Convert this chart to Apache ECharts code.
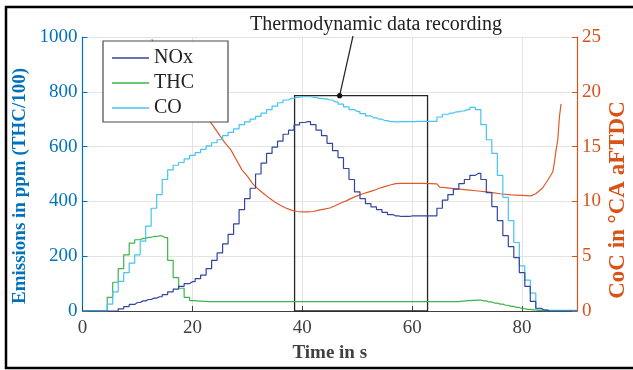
<!DOCTYPE html>
<html><head><meta charset="utf-8">
<script src="https://cdn.jsdelivr.net/npm/echarts@6/dist/echarts.min.js"></script>
<style>html,body{margin:0;padding:0;background:#fff}#c{width:633px;height:370px}</style>
</head><body><div id="c"></div>
<script>
// Time in s (shared by emission series)
const time = [0,1,2,3,4,5,6,7,8,9,10,11,12,13,14,15,16,17,18,19,20,21,22,23,24,25,26,27,28,29,30,31,32,33,34,35,36,37,38,39,40,41,42,43,44,45,46,47,48,49,50,51,52,53,54,55,56,57,58,59,60,61,62,63,64,65,66,67,68,69,70,71,72,73,74,75,76,77,78,79,80,81,82,83,84,85,86,87,88,89,90];
const noxValues = [0,0,0,0,0,0,0,8,16,24,31,37,42,47,52,60,70,80,90,100,107,118,131,155,185,212,245,280,318,370,410,448,500,540,575,598,620,645,660,679,688,691,680,660,640,612,585,560,520,480,435,410,392,380,370,360,352,347,345,345,347,347,347,347,347,375,405,425,445,465,480,495,502,480,432,381,330,275,235,195,140,90,35,10,3,0,0,0,0,0,0];
const thcValues = [0,0,0,0,0,50,105,155,205,248,260,265,269,272,274,268,185,122,83,50,38,36,35,34,34,34,34,34,34,34,34,34,34,34,34,34,34,34,34,34,34,34,34,34,34,34,34,34,34,34,34,34,34,34,34,34,34,34,34,34,34,34,34,34,34,34,34,34,34,36,38,39,40,37,33,29,25,21,17,13,9,6,4,2,0,0,0,0,0,0,0];
const coValues = [0,0,0,0,0,25,70,108,140,175,205,255,310,375,425,480,515,532,542,555,568,578,590,603,614,625,640,652,665,680,690,700,710,722,735,748,760,770,776,780,782,782,780,776,774,770,763,755,745,735,728,720,712,705,700,695,691,690,691,691,691,692,692,692,692,708,718,722,727,730,735,743,735,680,625,575,495,415,330,250,165,113,65,8,4,2,2,2,2,2,2];
// CoC (right axis)
const cocTime = [12.6,14,16,18,20,22,23.5,25,26,27,28,29,30,31,32,33,34,35,36,37,38,39,40,41,42,43,44,45,46,47,48,49,50,51,52,53,54,55,56,57,58,60,62,64.5,65,66,68,70,72,74,76,78,80,81.6,82.5,83.2,83.7,84.7,85.6,85.9,86.2,86.5,86.8,87.1];
const cocValues = [24.8,23.6,22.0,20.5,19.2,18.0,17.1,16.0,15.3,14.7,13.8,12.9,12.3,11.6,11.1,10.7,10.3,9.95,9.65,9.4,9.2,9.08,9.05,9.05,9.08,9.2,9.3,9.4,9.6,9.85,10.05,10.3,10.5,10.7,10.85,11.0,11.2,11.35,11.5,11.62,11.65,11.65,11.65,11.6,11.3,11.25,11.15,11.05,10.95,10.85,10.7,10.6,10.55,10.5,10.7,11.0,11.2,11.95,12.7,13.6,14.7,15.6,17.7,18.9];
// tick values
const xTicks = [0,20,40,60,80];
const leftTicks = [0,200,400,600,800,1000];
const rightTicks = [0,5,10,15,20,25];
// annotation box (data units)
const boxStart = 38.6, boxEnd = 62.8, boxTop = 786, pointerAt = 46.8;

const serif = '"Liberation Serif","Times New Roman",serif';
const pair = (xs, ys) => xs.map((x, i) => [x, ys[i]]);

const chart = echarts.init(document.getElementById('c'), null, {renderer: 'canvas'});
const option = {
  animation: false,
  backgroundColor: '#fff',
  grid: {left: 82.5, right: 56, top: 37, bottom: 59, containLabel: false},
  legend: {
    show: true,
    data: ['NOx', 'THC', 'CO'],
    orient: 'vertical', left: 103, top: 41,
    padding: [7, 34, 4, 9],
    icon: 'rect',
    itemWidth: 37, itemHeight: 1.4, itemGap: 5,
    backgroundColor: '#fff', borderColor: '#4a4a4a', borderWidth: 1.2, borderRadius: 0,
    textStyle: {fontFamily: serif, fontSize: 20, color: '#222', lineHeight: 20},
    z: 10
  },
  xAxis: {
    type: 'value', min: 0, max: 90, interval: 20,
    axisLine: {show: true, onZero: false, lineStyle: {color: '#404040', width: 1}},
    axisTick: {show: true, inside: true, length: 5, lineStyle: {color: '#404040'}},
    axisLabel: {fontFamily: serif, fontSize: 19, color: '#404040', margin: 8, showMaxLabel: false,
      formatter: v => xTicks.includes(v) ? String(v) : ''},
    splitLine: {show: true, lineStyle: {color: '#e3e3e3', width: 1}},
    name: 'Time in s', nameLocation: 'middle', nameGap: 33,
    nameTextStyle: {fontFamily: serif, fontSize: 19, fontWeight: 'bold', color: '#404040'}
  },
  yAxis: [{
    type: 'value', min: 0, max: 1000, interval: 200, position: 'left',
    axisLine: {show: true, lineStyle: {color: '#0072BD', width: 1.2}},
    axisTick: {show: true, inside: true, length: 5, lineStyle: {color: '#0072BD'}},
    axisLabel: {fontFamily: serif, fontSize: 19, color: '#0072BD', margin: 5,
      formatter: v => leftTicks.includes(v) ? String(v) : ''},
    splitLine: {show: true, lineStyle: {color: '#e3e3e3', width: 1}}
  }, {
    type: 'value', min: 0, max: 25, interval: 5, position: 'right',
    axisLine: {show: true, lineStyle: {color: '#D95319', width: 1.2}},
    axisTick: {show: true, inside: true, length: 5, lineStyle: {color: '#D95319'}},
    axisLabel: {fontFamily: serif, fontSize: 19, color: '#D95319', margin: 5,
      formatter: v => rightTicks.includes(v) ? String(v) : ''},
    splitLine: {show: false}
  }],
  series: [
    {name: 'CoC', type: 'line', yAxisIndex: 1, data: pair(cocTime, cocValues), symbol: 'none', clip: true,
      lineStyle: {color: '#E0592A', width: 1.2}, itemStyle: {color: '#E0592A'}, z: 2},
    {name: 'THC', type: 'line', yAxisIndex: 0, data: pair(time, thcValues), symbol: 'none', step: 'middle',
      lineStyle: {color: '#3CB54A', width: 1.2}, itemStyle: {color: '#3CB54A'}, z: 3},
    {name: 'CO', type: 'line', yAxisIndex: 0, data: pair(time, coValues), symbol: 'none', step: 'middle',
      lineStyle: {color: '#45C3F2', width: 1.2}, itemStyle: {color: '#45C3F2'}, z: 3},
    {name: 'NOx', type: 'line', yAxisIndex: 0, data: pair(time, noxValues), symbol: 'none', step: 'middle',
      lineStyle: {color: '#3246A0', width: 1.2}, itemStyle: {color: '#3246A0'}, z: 4,
      markArea: {silent: true, label: {show: false},
        itemStyle: {color: 'rgba(0,0,0,0)', borderColor: '#262626', borderWidth: 1.3},
        data: [[{xAxis: boxStart, yAxis: 0}, {xAxis: boxEnd, yAxis: boxTop}]]}}
  ]
};
chart.setOption(option);

const p = chart.convertToPixel({xAxisIndex: 0, yAxisIndex: 0}, [pointerAt, boxTop]);
chart.setOption({
  graphic: [
    {type: 'rect', shape: {x: 6, y: 7, width: 640, height: 361}, style: {fill: 'none', stroke: '#000', lineWidth: 2.5}, silent: true, z: 100},
    {type: 'line', shape: {x1: p[0], y1: p[1], x2: 353, y2: 36}, style: {stroke: '#222', lineWidth: 1.2}, z: 100},
    {type: 'circle', shape: {cx: p[0], cy: p[1], r: 2.6}, style: {fill: '#111'}, z: 100},
    {type: 'text', x: 376, y: 25, style: {text: 'Thermodynamic data recording', font: '20px ' + serif, fill: '#222', align: 'center', verticalAlign: 'middle'}, z: 100},
    {type: 'text', x: 20, y: 186, rotation: Math.PI / 2, style: {text: 'Emissions in ppm (THC/100)', font: 'bold 19px ' + serif, fill: '#0072BD', align: 'center', verticalAlign: 'middle'}, z: 100},
    {type: 'text', x: 618, y: 200, rotation: Math.PI / 2, style: {text: 'CoC in °CA aFTDC', font: 'bold 23px ' + serif, fill: '#D95319', align: 'center', verticalAlign: 'middle'}, z: 100}
  ]
});
</script>
</body></html>
